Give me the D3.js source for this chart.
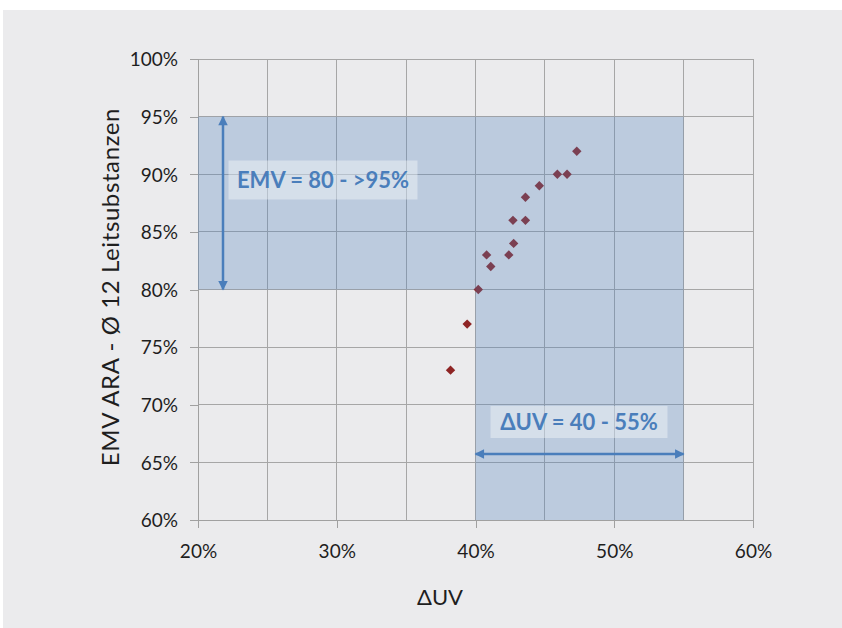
<!DOCTYPE html>
<html><head><meta charset="utf-8">
<script src="https://cdn.jsdelivr.net/npm/d3@7"></script>
<style>body{margin:0;background:#fff}svg{display:block}</style>
</head><body>
<svg id="c" width="842" height="628"></svg>
<script>
const xTicks = [20, 30, 40, 50, 60];
const yTicks = [60, 65, 70, 75, 80, 85, 90, 95, 100];
const xGrid = [20, 25, 30, 35, 40, 45, 50, 55, 60];
const deltaUV = [38.2, 39.4, 40.2, 40.8, 41.1, 42.4, 42.75, 42.7, 43.6, 43.6, 44.6, 45.9, 46.6, 47.3];
const emv =     [73,   77,   80,   83,   82,   83,   84,    86,   86,   88,   89,   90,   90,   92];
const zoneX = [20, 40, 55];   // left, split, right
const zoneY = [60, 80, 95];   // bottom, split, top
const labelEMV = "EMV = 80 - >95%";
const labelUV = "ΔUV = 40 - 55%";
const xTitle = "ΔUV";
const yTitle = "EMV ARA -  Ø 12 Leitsubstanzen";

const svg = d3.select("#c");
const x = d3.scaleLinear().domain([20, 60]).range([198, 753]);
const y = d3.scaleLinear().domain([60, 100]).range([520, 59]);
const font = "Lato, 'Carlito', 'Open Sans', sans-serif";
const blue = "#4a7ebb";

svg.append("rect").attr("x", 3).attr("y", 10).attr("width", 839).attr("height", 618).attr("fill", "#ebebed");

// grid
const g = svg.append("g");
g.selectAll(".vg").data(xGrid).join("line")
  .attr("x1", d => x(d)).attr("x2", d => x(d)).attr("y1", y(100)).attr("y2", y(60))
  .attr("stroke", "#a6a6a6").attr("stroke-width", 1).attr("shape-rendering", "crispEdges");
g.selectAll(".hg").data(yTicks).join("line")
  .attr("y1", d => y(d)).attr("y2", d => y(d)).attr("x1", x(20)).attr("x2", x(60))
  .attr("stroke", "#a6a6a6").attr("stroke-width", 1).attr("shape-rendering", "crispEdges");

// axes
const yAxis = svg.append("g").attr("transform", `translate(${x(20)},0)`)
  .call(d3.axisLeft(y).tickValues(yTicks).tickSize(8).tickPadding(12).tickFormat(d => d + "%"));
const xAxis = svg.append("g").attr("transform", `translate(0,${y(60)})`)
  .call(d3.axisBottom(x).tickValues(xTicks).tickSize(8).tickPadding(17).tickFormat(d => d + "%"));
[yAxis, xAxis].forEach(a => {
  a.select(".domain").attr("stroke", "#a0a0a0").attr("shape-rendering", "crispEdges");
  a.selectAll(".tick line").attr("stroke", "#a0a0a0").attr("shape-rendering", "crispEdges");
  a.selectAll("text").attr("fill", "#1e1e1e").style("font-family", font).style("font-size", "19px");
});
yAxis.selectAll("text").attr("dy", "0.36em");

// points
svg.append("g").selectAll("path").data(deltaUV).join("path")
  .attr("d", d3.symbol().type(d3.symbolSquare).size(44))
  .attr("transform", (d, i) => `translate(${x(d)},${y(emv[i])}) rotate(45)`)
  .attr("fill", "#8e2424");

// shaded zone (L-shape)
const poly = [[zoneX[0], zoneY[2]], [zoneX[2], zoneY[2]], [zoneX[2], zoneY[0]], [zoneX[1], zoneY[0]], [zoneX[1], zoneY[1]], [zoneX[0], zoneY[1]]];
svg.append("path")
  .attr("d", d3.line().x(d => x(d[0])).y(d => y(d[1]))(poly) + "Z")
  .attr("fill", "rgb(79,129,189)").attr("fill-opacity", 0.3);

// markers
const defs = svg.append("defs");
defs.append("marker").attr("id", "ah").attr("viewBox", "0 0 10 10").attr("refX", 9).attr("refY", 5)
  .attr("markerWidth", 4.2).attr("markerHeight", 3.8).attr("orient", "auto-start-reverse")
  .attr("markerUnits", "strokeWidth")
  .append("path").attr("d", "M0,0L10,5L0,10Z").attr("fill", blue);

// label boxes
function label(txt, cx, cy, bw, bh, size) {
  svg.append("rect").attr("x", cx - bw / 2).attr("y", cy - bh / 2).attr("width", bw).attr("height", bh)
    .attr("fill", "#fff").attr("fill-opacity", 0.38);
  svg.append("text").attr("x", cx).attr("y", cy).attr("dy", "0.36em").attr("text-anchor", "middle")
    .attr("fill", blue).style("font-family", font).style("font-weight", "bold").style("font-size", size + "px")
    .text(txt);
}
label(labelEMV, 323, 180, 189, 39, 22);
label(labelUV, 579, 422, 177, 32, 22);

// arrows
svg.append("line").attr("x1", 223).attr("x2", 223).attr("y1", y(80)).attr("y2", y(95))
  .attr("stroke", blue).attr("stroke-width", 2.5)
  .attr("marker-start", "url(#ah)").attr("marker-end", "url(#ah)");
svg.append("line").attr("x1", x(40)).attr("x2", x(55)).attr("y1", 454).attr("y2", 454)
  .attr("stroke", blue).attr("stroke-width", 2.5)
  .attr("marker-start", "url(#ah)").attr("marker-end", "url(#ah)");

// titles
svg.append("text").attr("x", 440).attr("y", 605).attr("text-anchor", "middle")
  .attr("fill", "#1e1e1e").style("font-family", font).style("font-size", "22px").text(xTitle);
svg.append("text").attr("transform", "translate(119,287) rotate(-90)").attr("text-anchor", "middle")
  .attr("fill", "#1e1e1e").style("font-family", font).style("font-size", "24px").style("letter-spacing", "0.6px").text(yTitle);
</script>
</body></html>
